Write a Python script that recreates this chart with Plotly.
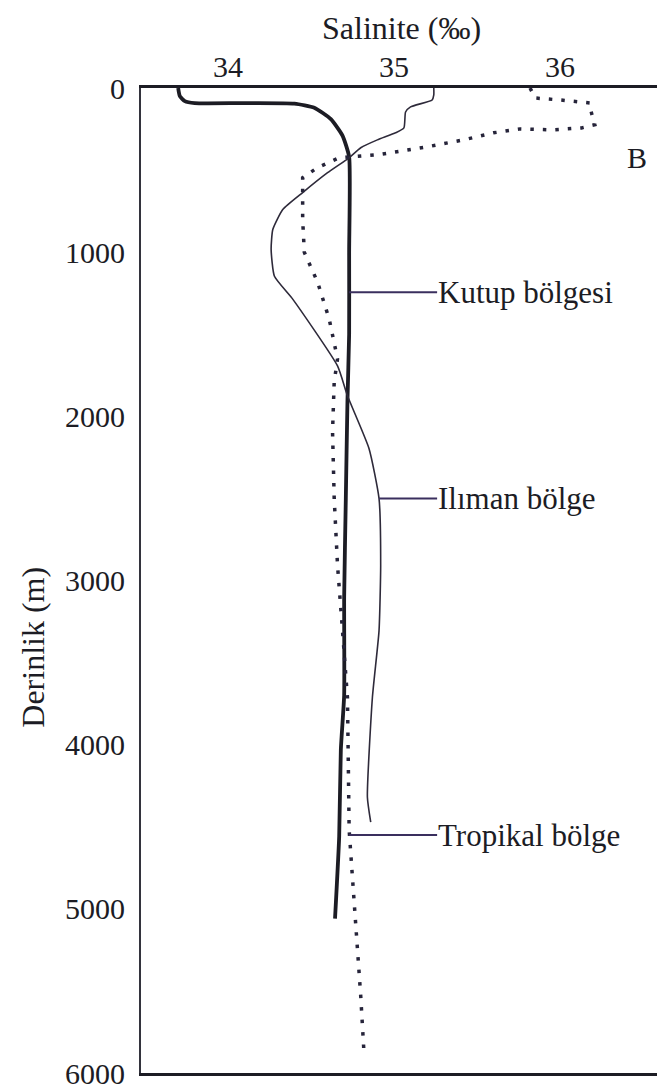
import plotly.graph_objects as go

# ---- data ----
polar_depth = [0, 50, 80, 92, 92, 95, 120, 190, 290, 420, 1000, 1500, 1900, 2500, 3100, 3700, 4030, 4560, 5060]
polar_sal = [33.70, 33.71, 33.74, 33.80, 34.10, 34.40, 34.52, 34.62, 34.69, 34.73, 34.73, 34.73, 34.72, 34.71, 34.70, 34.70, 34.68, 34.67, 34.645]

temperate_depth = [0, 42, 73, 115, 146, 243, 273, 316, 364, 425, 516, 637, 740, 862, 983, 1147, 1286,
                   1693, 1875, 2197, 2500, 2907, 3307, 3714, 4320, 4472]
temperate_sal = [35.24, 35.24, 35.23, 35.10, 35.07, 35.06, 35.01, 34.90, 34.80, 34.73, 34.60, 34.45, 34.33,
                 34.27, 34.26, 34.28, 34.39, 34.66, 34.72, 34.85, 34.91, 34.92, 34.91, 34.87, 34.84, 34.86]

tropical_depth = [0, 61, 73, 91, 152, 224, 243, 255, 249, 273, 316, 358, 407, 425, 485, 546, 619, 801, 1001,
                  1183, 1408, 1650, 1790, 2093, 2500, 2907, 3307, 3714, 4520, 4927, 5534, 5886]
tropical_sal = [35.82, 35.85, 36.00, 36.18, 36.19, 36.21, 36.13, 35.96, 35.76, 35.60, 35.42, 35.20, 34.90,
                34.67, 34.54, 34.45, 34.45, 34.45, 34.46, 34.54, 34.61, 34.66, 34.64, 34.63, 34.64, 34.66,
                34.69, 34.72, 34.73, 34.76, 34.80, 34.82]

label_texts = ["Kutup bölgesi", "Ilıman bölge", "Tropikal bölge"]
label_depths = [1244, 2500, 4551]
label_start_sal = [34.73, 34.91, 34.73]
label_text_sal = 35.26

x_ticks = [34, 35, 36]
y_ticks = [0, 1000, 2000, 3000, 4000, 5000, 6000]

INK = "#1c1c24"
FONT = "Liberation Serif"
FS = 30

# page offset: the browser body has an 8px margin
OFF = 8
W, H = 665 - OFF, 1090 - OFF
l, r, t, b = 141 - OFF, 0, 88 - OFF, 13
pw, ph = W - l - r, H - t - b


def px_x(x):
    return (x - OFF - l) / pw


def px_y(y):
    return 1 - (y - OFF - t) / ph


fig = go.Figure()

fig.add_trace(go.Scatter(x=polar_sal, y=polar_depth, mode="lines",
                         line=dict(color=INK, width=3.8, shape="spline", smoothing=0.5),
                         hoverinfo="skip", showlegend=False))
fig.add_trace(go.Scatter(x=temperate_sal, y=temperate_depth, mode="lines",
                         line=dict(color="#2e2a3a", width=1.6, shape="spline", smoothing=0.5),
                         hoverinfo="skip", showlegend=False))
fig.add_trace(go.Scatter(x=tropical_sal, y=tropical_depth, mode="lines",
                         line=dict(color="#26243a", width=3.5, dash="3.5px,9px"),
                         hoverinfo="skip", showlegend=False))

for txt, d, s0 in zip(label_texts, label_depths, label_start_sal):
    fig.add_shape(type="line", x0=s0, x1=label_text_sal, y0=d, y1=d, xref="x", yref="y",
                  line=dict(color="#3a2f5e", width=2))
    fig.add_annotation(x=label_text_sal, y=d, xref="x", yref="y", text=txt, showarrow=False,
                       xanchor="left", yanchor="middle", xshift=-1,
                       font=dict(family=FONT, size=FS + 1, color=INK))

fig.add_annotation(x=px_x(637), y=px_y(158), xref="paper", yref="paper", text="B", showarrow=False,
                   xanchor="center", yanchor="middle",
                   font=dict(family=FONT, size=FS, color=INK))
fig.add_annotation(x=px_x(401), y=px_y(28), xref="paper", yref="paper", text="Salinite (‰)",
                   showarrow=False, xanchor="center", yanchor="middle",
                   font=dict(family=FONT, size=FS + 2, color=INK))
fig.add_annotation(x=px_x(33), y=px_y(650), xref="paper", yref="paper", text="Derinlik (m)",
                   textangle=-90, showarrow=False, xanchor="center", yanchor="middle",
                   font=dict(family=FONT, size=FS + 2, color=INK))

fig.update_layout(
    width=W, height=H,
    margin=dict(l=l, r=r, t=t, b=b),
    paper_bgcolor="white", plot_bgcolor="white",
    font=dict(family=FONT, size=FS, color=INK),
)

fig.update_xaxes(range=[33.476, 36.633], side="top", tickvals=x_ticks, ticktext=[str(v) for v in x_ticks],
                 showgrid=False, zeroline=False, showline=True, linewidth=3, linecolor=INK,
                 mirror=True, ticks="", ticklabelstandoff=-4,
                 tickfont=dict(family=FONT, size=FS, color=INK))
fig.update_yaxes(range=[6000, 0], tickvals=y_ticks, ticktext=[str(v) for v in y_ticks],
                 showgrid=False, zeroline=False, showline=True, linewidth=2, linecolor="#33333d",
                 ticks="", ticklabelstandoff=8, ticklabeloverflow="allow",
                 tickfont=dict(family=FONT, size=FS, color=INK))

fig.write_html("out.html")
